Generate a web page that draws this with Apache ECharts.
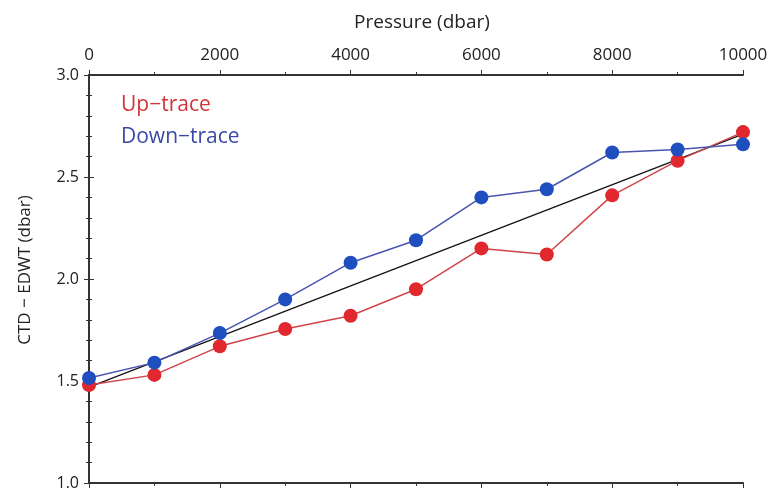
<!DOCTYPE html>
<html>
<head>
<meta charset="utf-8">
<script src="https://cdn.jsdelivr.net/npm/echarts@6/dist/echarts.min.js"></script>
<style>
  html, body { margin: 0; padding: 0; background: #fff; }
  #chart { width: 772px; height: 495px; }
</style>
</head>
<body>
<div id="chart"></div>
<script>
// pressure levels (dbar)
const pressure = [0, 1000, 2000, 3000, 4000, 5000, 6000, 7000, 8000, 9000, 10000]
const upTrace = [1.48, 1.53, 1.67, 1.755, 1.82, 1.95, 2.15, 2.12, 2.41, 2.58, 2.72]
const downTrace = [1.515, 1.59, 1.735, 1.90, 2.08, 2.19, 2.40, 2.44, 2.62, 2.635, 2.66]
// fitted line end points
const fitX = [0, 10000]
const fitY = [1.47, 2.71]

const font = '"Open Sans", "Noto Sans", sans-serif'
const axisColor = '#333'

const pairs = (xs, ys) => xs.map((x, i) => [x, ys[i]])

const chart = echarts.init(document.getElementById('chart'))

const xBase = {
    type: 'value',
    min: 0,
    max: 10000,
    interval: 2000,
    splitLine: { show: false },
    axisLine: { show: true, lineStyle: { color: axisColor, width: 2 } },
    axisTick: { show: true, length: 5, lineStyle: { color: axisColor } },
    minorTick: { show: true, splitNumber: 2, length: 3, lineStyle: { color: axisColor } }
}
const yBase = {
    type: 'value',
    min: 1.0,
    max: 3.0,
    interval: 0.5,
    splitLine: { show: false },
    axisLine: { show: true, lineStyle: { color: axisColor, width: 2 } },
    axisTick: { show: true, length: 5, lineStyle: { color: axisColor } },
    minorTick: { show: true, splitNumber: 5, length: 3, lineStyle: { color: axisColor } }
}

chart.setOption({
    animation: false,
    backgroundColor: '#fff',
    grid: { left: 89, right: 29, top: 75, bottom: 12 },
    xAxis: [
        Object.assign({}, xBase, {
            position: 'top',
            name: 'Pressure (dbar)',
            nameLocation: 'middle',
            nameGap: 43,
            nameTextStyle: { fontFamily: font, fontSize: 19, color: '#222', padding: [0, 0, 0, 12] },
            axisLabel: {
                fontFamily: font, fontSize: 17, color: '#222', margin: 11,
                formatter: v => String(v)
            }
        }),
        Object.assign({}, xBase, {
            position: 'bottom',
            axisLabel: { show: false }
        })
    ],
    yAxis: [
        Object.assign({}, yBase, {
            position: 'left',
            name: 'CTD \u2212 EDWT (dbar)',
            nameLocation: 'middle',
            nameGap: 55,
            nameTextStyle: { fontFamily: font, fontSize: 17, color: '#222', padding: [0, 0, 0, 18] },
            axisLabel: {
                fontFamily: font, fontSize: 16, color: '#222', margin: 10,
                formatter: v => v.toFixed(1)
            }
        }),
        Object.assign({}, yBase, {
            position: 'right',
            axisLabel: { show: false }
        })
    ],
    graphic: [
        {
            type: 'text', left: 121, top: 95,
            style: { text: 'Up\u2212trace', font: '21px ' + font, fill: '#d0353a' }
        },
        {
            type: 'text', left: 121, top: 127,
            style: { text: 'Down\u2212trace', font: '21px ' + font, fill: '#3b48a8' }
        }
    ],
    series: [
        {
            name: 'fit',
            type: 'line',
            data: pairs(fitX, fitY),
            symbol: 'none',
            lineStyle: { color: '#111', width: 1.2 },
            z: 1
        },
        {
            name: 'Up-trace',
            type: 'line',
            data: pairs(pressure, upTrace),
            symbol: 'circle',
            symbolSize: 14,
            lineStyle: { color: '#d0454a', width: 1.5 },
            itemStyle: { color: '#e0282e' },
            z: 2
        },
        {
            name: 'Down-trace',
            type: 'line',
            data: pairs(pressure, downTrace),
            symbol: 'circle',
            symbolSize: 14,
            lineStyle: { color: '#4a55b0', width: 1.5 },
            itemStyle: { color: '#1f4fbf' },
            z: 3
        }
    ]
})
</script>
</body>
</html>
